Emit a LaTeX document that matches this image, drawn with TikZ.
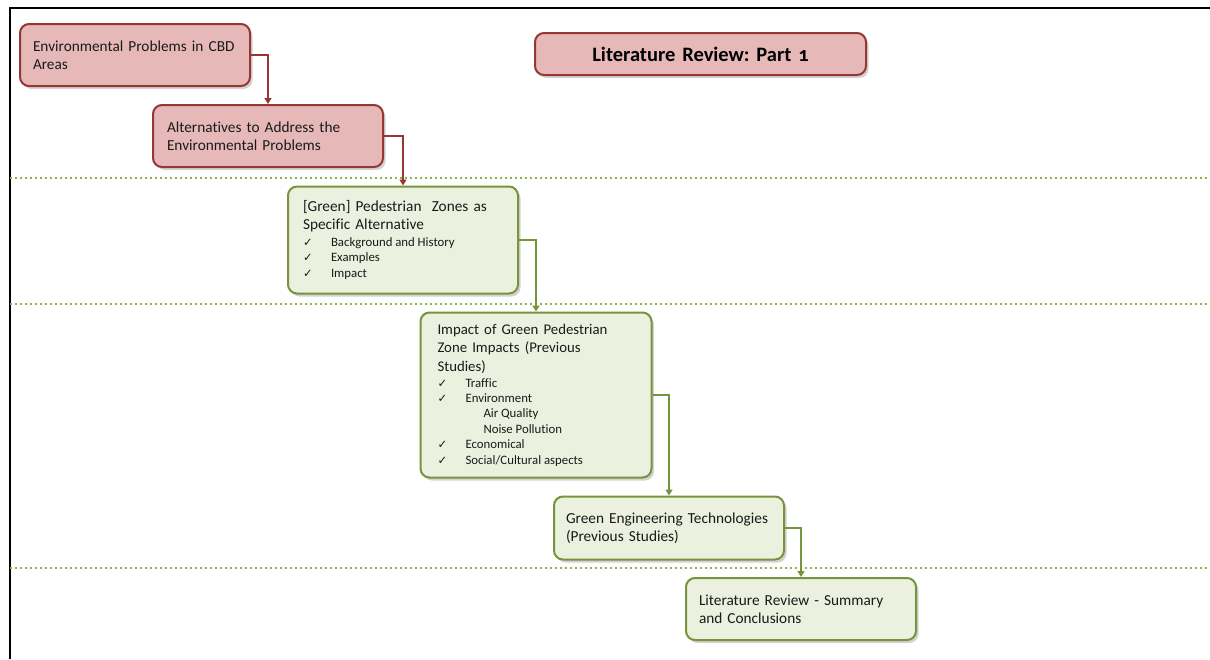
\documentclass[tikz,border=0pt]{standalone}
\usepackage{fontspec}
\setmainfont{Carlito}[Ligatures=NoCommon]
\newfontfamily\symfont{DejaVu Sans}
\newfontfamily\titlefont[Numbers=OldStyle]{Carlito}
\usetikzlibrary{shadows,arrows.meta}
\frenchspacing

\definecolor{edgered}{HTML}{953735}
\definecolor{fillred}{HTML}{E6B9B8}
\definecolor{edgegreen}{HTML}{77933C}
\definecolor{fillgreen}{HTML}{EBF1DE}
\definecolor{dotgreen}{HTML}{8FB24E}
\definecolor{ink}{HTML}{1A1A1A}

% body text sizes
\newcommand{\bodysize}{\fontsize{15.3}{18}\selectfont}
\newcommand{\itemsize}{\fontsize{12.8}{15.3}\selectfont\spaceskip=0.22em plus 0.1em}
% checklist entries and indented sub-entries
\newcommand{\chk}[1]{\makebox[28pt][l]{\symfont\fontsize{11.5}{10}\selectfont ✓}#1}
\newcommand{\subentry}[1]{\hspace*{46pt}#1}

\begin{document}
\begin{tikzpicture}[x=1pt,y=-1pt,
  card/.style={rounded corners=9pt, line width=2pt, minimum height=62pt,
    minimum width=230pt, text width=204pt, inner xsep=13pt, inner ysep=4pt,
    align=left, text=ink, font=\bodysize,
    drop shadow={opacity=0.35, shadow xshift=2.5pt, shadow yshift=-3pt}},
  redcard/.style={card, draw=edgered, fill=fillred},
  greencard/.style={card, draw=edgegreen, fill=fillgreen},
  redlink/.style={draw=edgered, line width=2pt, -{Triangle[length=6pt,width=7pt]}},
  greenlink/.style={draw=edgegreen, line width=2pt, -{Triangle[length=6pt,width=7pt]}},
  band/.style={draw=dotgreen, line width=2.2pt, dash pattern=on 2.2pt off 2.8pt},
  frameline/.style={draw=black, line width=2pt}]

\useasboundingbox (0,0) rectangle (1210,659);

% outer frame (top and left edges)
\coordinate (ftl) at (10,8);
\coordinate (ftr) at (1210,8);
\coordinate (fbl) at (10,659);
\draw[frameline] (fbl) -- (ftl) -- (ftr);

% dotted section separators
\coordinate (s1l) at (10,178);  \coordinate (s1r) at (1210,178);
\coordinate (s2l) at (10,304);  \coordinate (s2r) at (1210,304);
\coordinate (s3l) at (10,568);  \coordinate (s3r) at (1210,568);
\draw[band] (s1l) -- (s1r);
\draw[band] (s2l) -- (s2r);
\draw[band] (s3l) -- (s3r);

% title
\node[redcard, minimum width=331pt, text width=305pt, minimum height=42pt,
  align=center, font=\titlefont\bfseries\fontsize{20.5}{21}\selectfont, text=black]
  (title) at (700.5,54) {Literature Review: Part 1};

% red stages
\node[redcard] (envprob) at (135,55) {Environmental Problems in CBD\\Areas};
\node[redcard, inner xsep=14pt, text width=202pt] (altern) at (268,136)
  {Alternatives to Address the\\Environmental Problems};

% green stages
\node[greencard, minimum height=107pt, inner xsep=15pt, text width=200pt] (pedzone) at (403,240) {%
  {\bodysize [Green] Pedestrian~ Zones as\\Specific Alternative\par}%
  \vspace{1.5pt}%
  {\itemsize \chk{Background and History}\\\chk{Examples}\\\chk{Impact}\par}};

\node[greencard, minimum width=231pt, minimum height=165pt, inner xsep=17pt, text width=197pt]
  (impact) at (536,395) {%
  {\fontsize{14.8}{18.5}\selectfont Impact of Green Pedestrian\\Zone Impacts (Previous\\Studies)\par}%
  \vspace{0.5pt}%
  {\itemsize\fontsize{12.8}{15.4}\selectfont \chk{Traffic}\\\chk{Environment}\\\subentry{Air Quality}\\\subentry{Noise Pollution}\\\chk{Economical}\\\chk{Social/Cultural aspects}\par}};

\node[greencard, minimum height=63pt, inner xsep=12pt, text width=206pt] (greentech) at (669,528)
  {Green Engineering Technologies\\(Previous Studies)};
\node[greencard] (summary) at (801,609) {Literature Review - Summary\\and Conclusions};

% connectors
\draw[redlink] (envprob.east) -| (altern.north);
\draw[redlink] (altern.east) -| (pedzone.north);
\draw[greenlink] (pedzone.east) -| (impact.north);
\draw[greenlink] (impact.east) -| (greentech.north);
\draw[greenlink] (greentech.east) -| (summary.north);
\end{tikzpicture}
\end{document}
